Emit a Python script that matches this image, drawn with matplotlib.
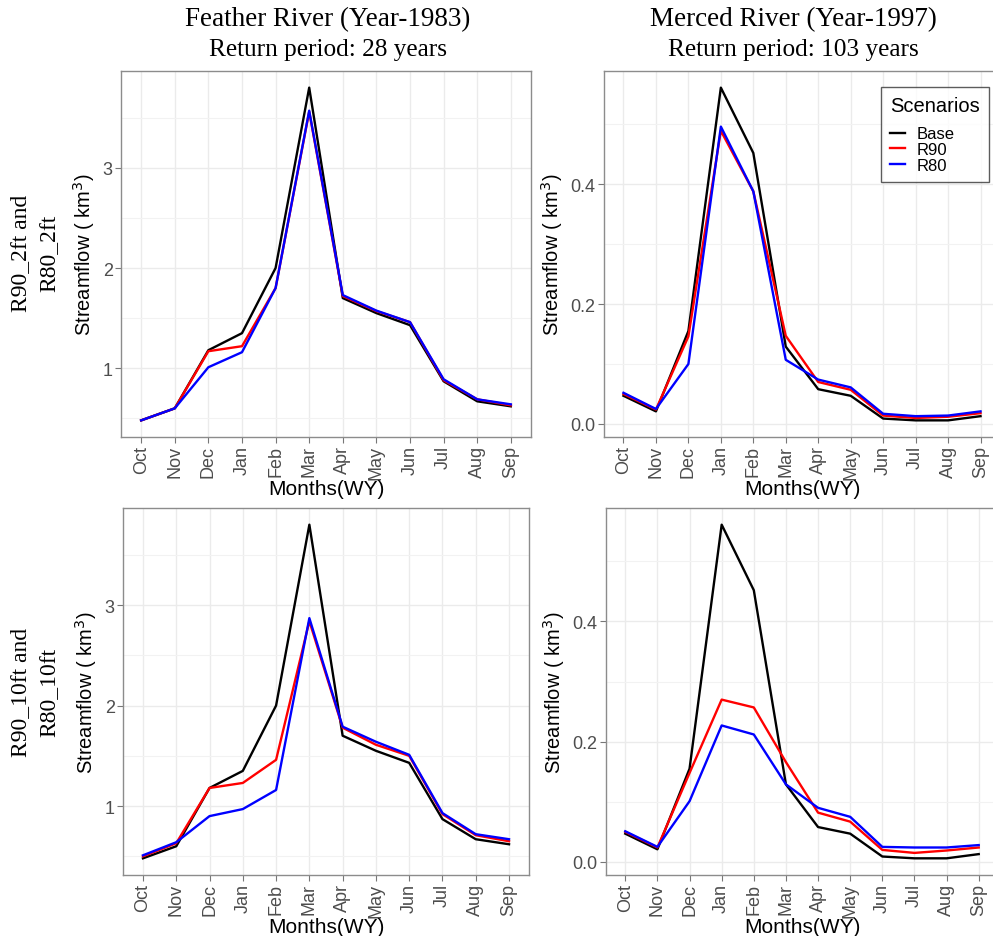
import matplotlib
matplotlib.use("Agg")
import matplotlib.pyplot as plt
import numpy as np

months = ["Oct", "Nov", "Dec", "Jan", "Feb", "Mar", "Apr", "May", "Jun", "Jul", "Aug", "Sep"]

# Feather River, 1983 (km^3)
feather_base = [0.48, 0.60, 1.18, 1.35, 2.00, 3.80, 1.70, 1.55, 1.43, 0.87, 0.67, 0.62]
feather_r90_2ft = [0.48, 0.60, 1.17, 1.22, 1.80, 3.56, 1.72, 1.57, 1.46, 0.88, 0.69, 0.63]
feather_r80_2ft = [0.48, 0.60, 1.01, 1.16, 1.80, 3.57, 1.73, 1.575, 1.46, 0.89, 0.69, 0.64]
feather_r90_10ft = [0.50, 0.63, 1.18, 1.23, 1.46, 2.84, 1.78, 1.61, 1.50, 0.92, 0.71, 0.65]
feather_r80_10ft = [0.51, 0.64, 0.90, 0.97, 1.16, 2.87, 1.79, 1.64, 1.51, 0.93, 0.72, 0.67]

# Merced River, 1997 (km^3)
merced_base = [0.047, 0.021, 0.155, 0.561, 0.452, 0.129, 0.058, 0.047, 0.009, 0.006, 0.006, 0.013]
merced_r90_2ft = [0.050, 0.024, 0.146, 0.489, 0.388, 0.147, 0.070, 0.057, 0.014, 0.010, 0.012, 0.018]
merced_r80_2ft = [0.052, 0.025, 0.100, 0.496, 0.388, 0.107, 0.074, 0.061, 0.017, 0.013, 0.014, 0.021]
merced_r90_10ft = [0.050, 0.024, 0.148, 0.270, 0.257, 0.166, 0.082, 0.067, 0.020, 0.015, 0.019, 0.024]
merced_r80_10ft = [0.051, 0.025, 0.101, 0.227, 0.212, 0.129, 0.090, 0.075, 0.025, 0.024, 0.024, 0.028]

scenarios = ["Base", "R90", "R80"]
colors = ["black", "red", "blue"]

col_titles = ["Feather River (Year-1983)", "Merced River (Year-1997)"]
col_subtitles = ["Return period: 28 years", "Return period: 103 years"]
row_labels = ["R90_2ft and\nR80_2ft", "R90_10ft and\nR80_10ft"]

W, H = 993, 937
fig = plt.figure(figsize=(W / 100, H / 100), dpi=100)
fig.patch.set_facecolor("white")

sans = "Liberation Sans"
serif = "Liberation Serif"


def px_axes(left, top, right, bottom):
    return fig.add_axes([left / W, 1 - bottom / H, (right - left) / W, (bottom - top) / H])


panels = [
    ((121, 72, 531, 438), [feather_base, feather_r90_2ft, feather_r80_2ft], [1, 2, 3], ["1", "2", "3"]),
    ((604, 72, 1000, 438), [merced_base, merced_r90_2ft, merced_r80_2ft], [0.0, 0.2, 0.4], ["0.0", "0.2", "0.4"]),
    ((123, 509, 529, 876), [feather_base, feather_r90_10ft, feather_r80_10ft], [1, 2, 3], ["1", "2", "3"]),
    ((606, 509, 998, 876), [merced_base, merced_r90_10ft, merced_r80_10ft], [0.0, 0.2, 0.4], ["0.0", "0.2", "0.4"]),
]

x = np.arange(len(months))
axes = []
for i, (box, series, yt, ytl) in enumerate(panels):
    ax = px_axes(*box)
    axes.append(ax)
    for s, name, c in zip(series, scenarios, colors):
        ax.plot(x, s, color=c, lw=1.7, label=name)
    ax.set_xticks(x)
    ax.set_xticklabels(months, rotation=90, fontsize=13, family=sans, color="#4D4D4D")
    ax.set_yticks(yt)
    ax.set_yticklabels(ytl, fontsize=13, family=sans, color="#4D4D4D")
    step = yt[1] - yt[0]
    minors = [yt[0] - step / 2] + [v + step / 2 for v in yt]
    ax.set_yticks(minors, minor=True)
    # ggplot-style expansion: 5% on continuous y, 0.6 on discrete x
    allv = np.concatenate([np.asarray(s) for s in series])
    lo, hi = allv.min(), allv.max()
    pad = 0.05 * (hi - lo)
    ax.set_ylim(lo - pad, hi + pad)
    ax.set_xlim(-0.6, len(months) - 0.4)
    ax.grid(True, which="major", color="#EBEBEB", lw=1.0)
    ax.grid(True, which="minor", axis="y", color="#F2F2F2", lw=0.8)
    ax.set_axisbelow(True)
    ax.tick_params(which="major", length=4, color="#777777", width=0.8, pad=2)
    ax.tick_params(which="minor", length=0)
    for sp in ax.spines.values():
        sp.set_color("#8C8C8C")
        sp.set_linewidth(1.0)
    ax.set_xlabel("Months(WY)", fontsize=15, family=sans, labelpad=0)
    ax.set_ylabel("Streamflow ( km$^3$)", fontsize=14.5, family=sans, labelpad=4)

leg = axes[1].legend(title="Scenarios", loc="upper right", bbox_to_anchor=(0.972, 0.956),
                     prop={"family": sans, "size": 12}, frameon=True, fancybox=False,
                     handlelength=0.9, handletextpad=0.7, borderpad=0.55, labelspacing=0.05,
                     borderaxespad=0)
leg.get_title().set_fontfamily(sans)
leg.get_title().set_fontsize(14.5)
leg.get_frame().set_edgecolor("#333333")
leg.get_frame().set_linewidth(1.0)
leg._legend_box.align = "left"
leg._legend_box.sep = 8

# column titles
for cx, t, st in zip([328, 793], col_titles, col_subtitles):
    fig.text(cx / W, 1 - 20 / H, t, ha="center", va="center", fontsize=19.5, family=serif)
    fig.text(cx / W, 1 - 50 / H, st, ha="center", va="center", fontsize=18.2, family=serif)

# row labels
for cy, lab in zip([253, 692], row_labels):
    fig.text(35 / W, 1 - cy / H, lab, ha="center", va="center", rotation=90,
             fontsize=17, family=serif, multialignment="center", linespacing=1.55)

fig.savefig("out.png", dpi=100)
